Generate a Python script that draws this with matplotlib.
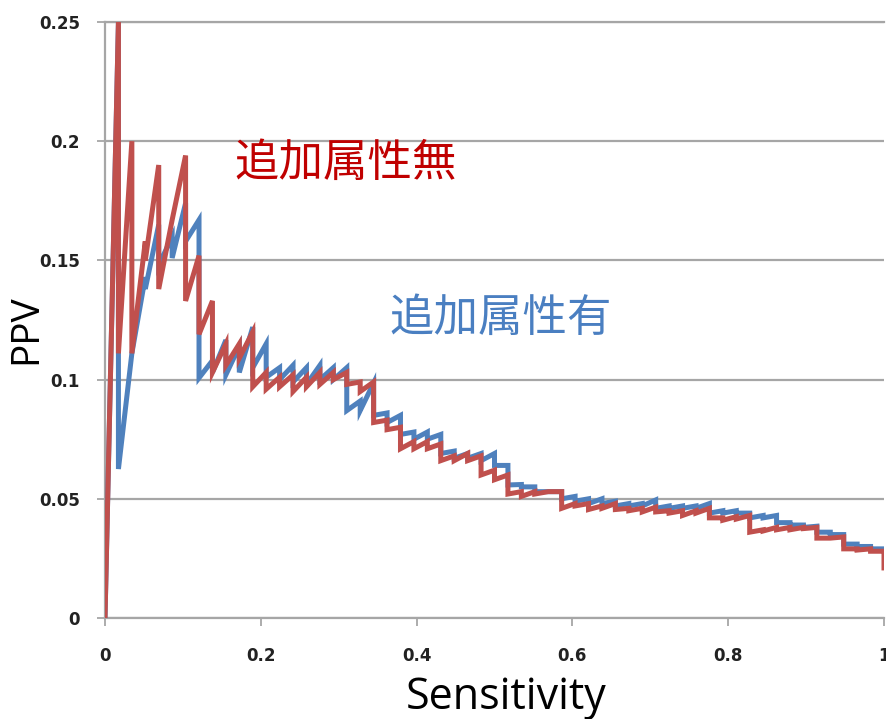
import matplotlib
matplotlib.use('Agg')
import numpy as np
from matplotlib import pyplot as plt

# PPV at each true-positive step: value when the hit is reached (peak)
# and value after the following false positives (trough)
n_pos = 58

red_peak = [0.250, 0.200, 0.158, 0.190, 0.167, 0.194, 0.152, 0.133, 0.115, 0.115,
            0.120, 0.103, 0.101, 0.102, 0.101, 0.103, 0.103, 0.103, 0.099, 0.099,
            0.083, 0.080, 0.074, 0.074, 0.073, 0.068, 0.069, 0.068, 0.062, 0.060,
            0.053, 0.053, 0.053, 0.053, 0.048, 0.048, 0.047, 0.048, 0.046, 0.046,
            0.0465, 0.045, 0.045, 0.045, 0.046, 0.042, 0.0425, 0.043, 0.037, 0.038,
            0.038, 0.038, 0.038, 0.0335, 0.034, 0.029, 0.029, 0.028]
red_trough = [0.111, 0.111, 0.150, 0.138, 0.167, 0.133, 0.119, 0.103, 0.106, 0.109,
              0.097, 0.096, 0.097, 0.095, 0.097, 0.098, 0.100, 0.098, 0.095, 0.082,
              0.079, 0.071, 0.071, 0.071, 0.066, 0.066, 0.066, 0.060, 0.058, 0.052,
              0.051, 0.052, 0.053, 0.046, 0.047, 0.0455, 0.046, 0.0455, 0.045, 0.0445,
              0.0445, 0.044, 0.043, 0.044, 0.042, 0.041, 0.0415, 0.036, 0.0365, 0.037,
              0.037, 0.0375, 0.0335, 0.0335, 0.029, 0.0285, 0.028, 0.021]

blue_peak = [0.250, 0.111, 0.143, 0.165, 0.160, 0.174, 0.167, 0.108, 0.1166, 0.114,
             0.122, 0.115, 0.105, 0.106, 0.105, 0.106, 0.105, 0.105, 0.091, 0.0986,
             0.086, 0.085, 0.078, 0.078, 0.077, 0.070, 0.069, 0.069, 0.069, 0.064,
             0.056, 0.055, 0.053, 0.053, 0.051, 0.050, 0.050, 0.049, 0.048, 0.048,
             0.0495, 0.047, 0.047, 0.047, 0.048, 0.045, 0.045, 0.044, 0.043, 0.043,
             0.040, 0.039, 0.0385, 0.036, 0.035, 0.031, 0.030, 0.029]
blue_trough = [0.0625, 0.111, 0.138, 0.148, 0.151, 0.158, 0.1007, 0.103, 0.102, 0.103,
               0.105, 0.101, 0.100, 0.099, 0.098, 0.100, 0.100, 0.087, 0.087, 0.085,
               0.082, 0.077, 0.075, 0.075, 0.069, 0.067, 0.067, 0.066, 0.064, 0.0558,
               0.055, 0.053, 0.053, 0.050, 0.049, 0.048, 0.048, 0.047, 0.047, 0.047,
               0.046, 0.046, 0.046, 0.046, 0.044, 0.044, 0.044, 0.042, 0.042, 0.040,
               0.039, 0.038, 0.036, 0.035, 0.031, 0.030, 0.029, 0.028]

x_ticks = [0, 0.2, 0.4, 0.6, 0.8, 1]
x_ticklabels = ['0', '0.2', '0.4', '0.6', '0.8', '1']
y_ticks = [0, 0.05, 0.1, 0.15, 0.2, 0.25]
y_ticklabels = ['0', '0.05', '0.1', '0.15', '0.2', '0.25']

label_without = '追加属性無'
label_with = '追加属性有'

RED = '#c0504d'
BLUE = '#4f81bd'
GRID = '#a6a6a6'


def step_path(peak, trough):
    sens = np.arange(1, len(peak) + 1) / n_pos
    xs, ys = [0.0], [0.0]
    for s, p, t in zip(sens, peak, trough):
        xs += [s, s]
        ys += [p, t]
    return xs, ys


fig = plt.figure(figsize=(8.86, 7.19), dpi=100)
ax = fig.add_axes([105 / 886, 1 - 618 / 719, 779 / 886, 596 / 719])

bx, by = step_path(blue_peak, blue_trough)
rx, ry = step_path(red_peak, red_trough)
ax.plot(bx, by, color=BLUE, lw=3.6, solid_joinstyle='miter', zorder=3)
ax.plot(rx, ry, color=RED, lw=3.6, solid_joinstyle='miter', zorder=4)

ax.set_xlim(0, 1)
ax.set_ylim(0, 0.25)
ax.set_xticks(x_ticks)
ax.set_xticklabels(x_ticklabels)
ax.set_yticks(y_ticks)
ax.set_yticklabels(y_ticklabels)

for lab in ax.get_xticklabels() + ax.get_yticklabels():
    lab.set_fontfamily('DejaVu Sans')
    lab.set_fontweight('bold')
    lab.set_fontsize(12)
    lab.set_color('#222222')

ax.tick_params(axis='x', direction='out', length=6, width=1.3, color=GRID, pad=15)
ax.tick_params(axis='y', direction='out', length=6, width=1.3, color=GRID, pad=12)

ax.yaxis.grid(True, color=GRID, lw=1.6)
ax.set_axisbelow(True)
for side in ['left', 'bottom', 'top']:
    ax.spines[side].set_color(GRID)
    ax.spines[side].set_linewidth(1.6)
ax.spines['right'].set_visible(False)

ax.set_xlabel('Sensitivity', fontfamily='Open Sans', fontsize=31)
ax.xaxis.set_label_coords(0.515, -0.097)
ax.set_ylabel('PPV', fontfamily='Open Sans', fontsize=28)
ax.yaxis.set_label_coords(-0.077, 0.485)

ax.text(0.309, 0.191, label_without, color='#c00000', fontsize=32,
        family=['Noto Sans CJK JP', 'DejaVu Sans'], ha='center', va='center')
ax.text(0.508, 0.1258, label_with, color='#4a7fc1', fontsize=32,
        family=['Noto Sans CJK JP', 'DejaVu Sans'], ha='center', va='center')

fig.savefig('out.png', dpi=100)
